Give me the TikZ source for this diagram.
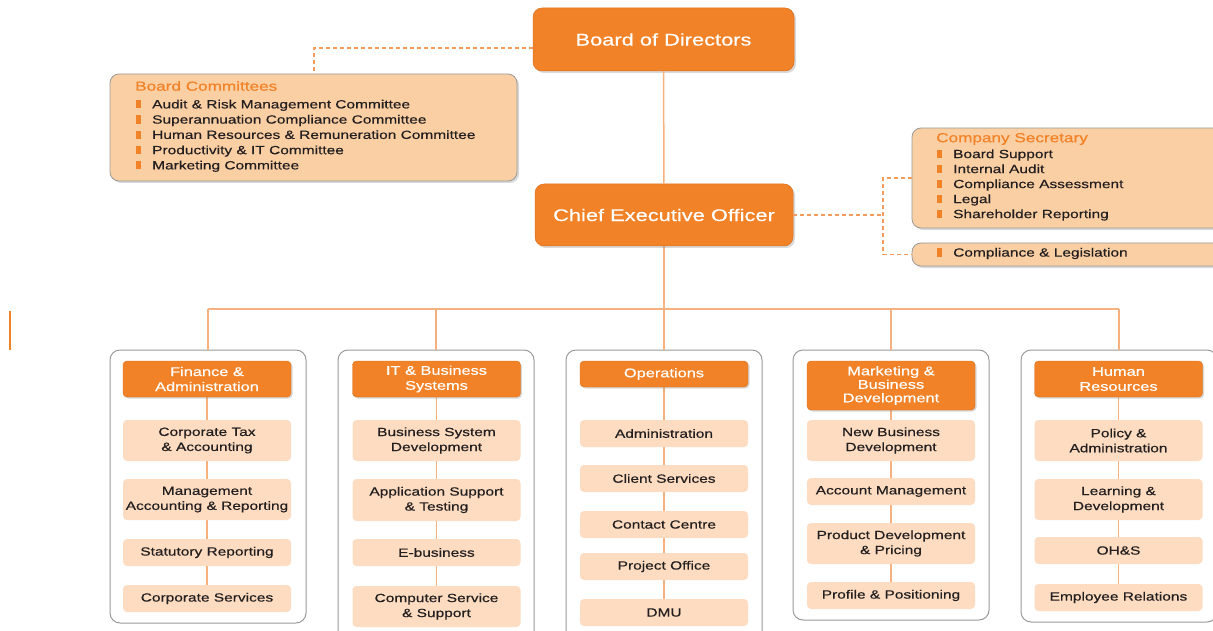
\documentclass[tikz,border=0pt]{standalone}
\usepackage{fontspec}
\setmainfont{Liberation Sans}[FakeStretch=1.3,FakeBold=0.5]
\usetikzlibrary{shadows,backgrounds}
\definecolor{org}{HTML}{F28227}
\definecolor{orgdark}{HTML}{D9701C}
\definecolor{peach}{HTML}{FBCFA4}
\definecolor{subf}{HTML}{FDDCC1}
\definecolor{conn}{HTML}{F6B27E}
\definecolor{dashc}{HTML}{F39A5C}
\definecolor{gborder}{HTML}{9A9A9A}
\definecolor{txt}{HTML}{231F20}
\newcommand\blt{\textcolor{org}{\rule{5pt}{8.3pt}}\hspace{11pt}}
\begin{document}
\begin{tikzpicture}[x=1pt,y=-1pt,
  base/.style={inner sep=0pt, align=center, text=txt, font=\fontsize{11.9}{15}\selectfont},
  topbox/.style={base, fill=org, draw=orgdark, line width=0.5pt, rounded corners=9pt, text=white,
     font=\fontsize{16.8}{20}\selectfont, drop shadow={shadow xshift=2pt, shadow yshift=-2pt, opacity=0.3}},
  head/.style={base, fill=org, draw=orgdark, line width=0.4pt, rounded corners=4pt, text=white,
     minimum width=168pt, font=\fontsize{12.6}{15}\selectfont,
     drop shadow={shadow xshift=1.5pt, shadow yshift=-1.5pt, opacity=0.3}},
  sub/.style={base, fill=subf, rounded corners=4pt, minimum width=168pt},
  infobox/.style={inner sep=0pt, fill=peach, draw=gborder, line width=0.8pt, rounded corners=9pt,
     drop shadow={shadow xshift=2pt, shadow yshift=-2pt, opacity=0.3}},
  infotitle/.style={inner sep=0pt, anchor=west, text=org, font=\fontsize{13.2}{15}\selectfont},
  item/.style={inner sep=0pt, anchor=west, text=txt, font=\fontsize{11.9}{15}\selectfont,
     text height=8.7pt, text depth=2.5pt},
  colbox/.style={draw=gborder, line width=1pt, fill=white, rounded corners=10pt, inner sep=0pt},
  cline/.style={draw=conn, line width=1.5pt},
  dline/.style={draw=dashc, line width=1.2pt, dash pattern=on 4pt off 3pt}
]
\useasboundingbox (0,0) rectangle (1213,631);
\clip (0,0) rectangle (1213,631);

% top
\node[topbox, minimum width=261pt, minimum height=63pt] (bod) at (663.5,39.5) {Board of Directors};
\node[topbox, minimum width=258pt, minimum height=62pt] (ceo) at (664,215) {Chief Executive Officer};
\draw[cline] (bod) -- (ceo);

% board committees
\node[infobox, minimum width=407pt, minimum height=107pt] (comm) at (313.5,127.5) {};
\node[infotitle] (commT) at (135,86) {Board Committees};
\node[item] (c1) at (136,105.3) {\blt Audit \& Risk Management Committee};
\node[item] (c2) at (136,120.5) {\blt Superannuation Compliance Committee};
\node[item] (c3) at (136,135.8) {\blt Human Resources \& Remuneration Committee};
\node[item] (c4) at (136,151.1) {\blt Productivity \& IT Committee};
\node[item] (c5) at (136,166.3) {\blt Marketing Committee};
\draw[dline] ([yshift=-8.5pt]bod.west) -| ([xshift=0.5pt]comm.north);

% company secretary
\node[infobox, minimum width=314pt, minimum height=100pt] (csec) at (1069,178) {};
\node[infotitle] (csecT) at (936,139) {Company Secretary};
\node[item] (s1) at (937,155) {\blt Board Support};
\node[item] (s2) at (937,170) {\blt Internal Audit};
\node[item] (s3) at (937,185) {\blt Compliance Assessment};
\node[item] (s4) at (937,200) {\blt Legal};
\node[item] (s5) at (937,215) {\blt Shareholder Reporting};
\node[infobox, minimum width=314pt, minimum height=23pt] (compl) at (1069,254.5) {};
\node[item] (cl) at (937,253.5) {\blt Compliance \& Legislation};
\coordinate (j) at (883,215);
\draw[dline] (ceo.east) -- (j);
\draw[dline] (csec.west) -| (j) |- (compl.west);

% left mark
\draw[org, line width=1.3pt] (10,311) -- (10,350);

% column 1
\node[head, minimum height=36pt] (h1) at (207,379) {Finance \&\\Administration};
\node[sub, minimum height=41pt] (a1) at (207,440.5) {Corporate Tax\\\& Accounting};
\node[sub, minimum height=41pt] (a2) at (207,499.5) {Management\\Accounting \& Reporting};
\node[sub, minimum height=27pt] (a3) at (207,552.5) {Statutory Reporting};
\node[sub, minimum height=27pt] (a4) at (207,598.5) {Corporate Services};
% column 2
\node[head, minimum height=36pt] (h2) at (436.5,379) {IT \& Business\\Systems};
\node[sub, minimum height=41pt] (b1) at (436.5,440.5) {Business System\\Development};
\node[sub, minimum height=42pt] (b2) at (436.5,500) {Application Support\\\& Testing};
\node[sub, minimum height=27pt] (b3) at (436.5,552.5) {E-business};
\node[sub, minimum height=41pt] (b4) at (436.5,606.5) {Computer Service\\\& Support};
% column 3
\node[head, minimum height=26pt] (h3) at (664,374) {Operations};
\node[sub, minimum height=27pt] (d1) at (664,433.5) {Administration};
\node[sub, minimum height=27pt] (d2) at (664,478.5) {Client Services};
\node[sub, minimum height=27pt] (d3) at (664,524.5) {Contact Centre};
\node[sub, minimum height=27pt] (d4) at (664,566.5) {Project Office};
\node[sub, minimum height=27pt] (d5) at (664,612.5) {DMU};
% column 4
\node[head, minimum height=49pt, font=\fontsize{12.6}{13.5}\selectfont] (h4) at (891,385.5) {Marketing \&\\Business\\Development};
\node[sub, minimum height=41pt] (e1) at (891,440.5) {New Business\\Development};
\node[sub, minimum height=27pt] (e2) at (891,491.5) {Account Management};
\node[sub, minimum height=41pt] (e3) at (891,543.5) {Product Development\\\& Pricing};
\node[sub, minimum height=27pt] (e4) at (891,595.5) {Profile \& Positioning};
% column 5
\node[head, minimum height=36pt] (h5) at (1118.5,379) {Human\\Resources};
\node[sub, minimum height=41pt] (f1) at (1118.5,440.5) {Policy \&\\Administration};
\node[sub, minimum height=41pt] (f2) at (1118.5,499.5) {Learning \&\\Development};
\node[sub, minimum height=27pt] (f3) at (1118.5,550.5) {OH\&S};
\node[sub, minimum height=27pt] (f4) at (1118.5,597.5) {Employee Relations};

\begin{scope}[on background layer]
  \clip (0,0) rectangle (1213,631);
  \node[colbox, minimum width=196pt, minimum height=273pt] (k1) at (208,486.5) {};
  \node[colbox, minimum width=196pt, minimum height=300pt] (k2) at (436,500) {};
  \node[colbox, minimum width=196pt, minimum height=300pt] (k3) at (664,500) {};
  \node[colbox, minimum width=196pt, minimum height=270pt] (k4) at (891,485) {};
  \node[colbox, minimum width=196pt, minimum height=272pt] (k5) at (1119,486) {};
  \coordinate (bar) at (664,309);
  \draw[cline] (ceo) -- (bar);
  \draw[cline] (k1.north |- bar) -- (k5.north |- bar);
  \foreach \k in {k1,k2,k3,k4,k5} \draw[cline] (\k.north) -- (\k.north |- bar);
  \draw[cline] (h1) -- (a4);
  \draw[cline] (h2) -- (b4);
  \draw[cline] (h3) -- (d5);
  \draw[cline] (h4) -- (e4);
  \draw[cline] (h5) -- (f4);
\end{scope}
\end{tikzpicture}
\end{document}
